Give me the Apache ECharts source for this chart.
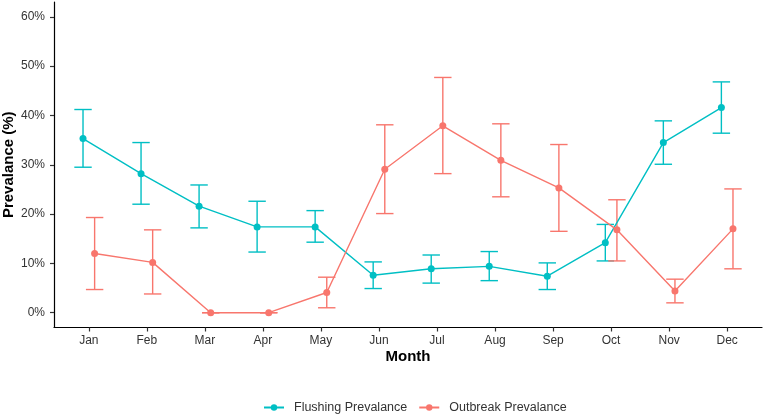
<!DOCTYPE html>
<html>
<head>
<meta charset="utf-8">
<script src="https://cdn.jsdelivr.net/npm/echarts@6/dist/echarts.min.js"></script>
<style>
html,body{margin:0;padding:0;background:#fff;}
#chart{width:764px;height:416px;}
</style>
</head>
<body>
<div id="chart"></div>
<script>
var months = ['Jan','Feb','Mar','Apr','May','Jun','Jul','Aug','Sep','Oct','Nov','Dec'];
var yTicks = [0, 10, 20, 30, 40, 50, 60];

var flushing      = [35.3, 28.2, 21.6, 17.4, 17.4, 7.6, 8.9, 9.4, 7.4, 14.2, 34.5, 41.6];
var flushingLow   = [29.5, 22.0, 17.2, 12.3, 14.3, 4.9, 6.0, 6.5, 4.7, 10.5, 30.1, 36.4];
var flushingHigh  = [41.2, 34.5, 25.9, 22.6, 20.7, 10.3, 11.7, 12.4, 10.1, 17.9, 38.9, 46.8];

var outbreak      = [12.0, 10.2, 0, 0, 4.1, 29.1, 37.9, 30.9, 25.3, 16.8, 4.4, 17.0];
var outbreakLow   = [4.7, 3.8, 0, 0, 1.0, 20.1, 28.2, 23.5, 16.5, 10.5, 2.0, 8.9];
var outbreakHigh  = [19.3, 16.8, 0, 0, 7.2, 38.1, 47.7, 38.3, 34.1, 22.9, 6.8, 25.1];

var TEAL = '#00BFC4', SALMON = '#F8766D';
var DODGE = 0.1, CAP = 0.15;

function pts(vals, off){ return vals.map(function(v,i){ return [i+1+off, v]; }); }
function bars(lo, hi, off){ return lo.map(function(l,i){ return [i+1+off, l, hi[i]]; }); }

function errRender(color){
  return function(params, api){
    var x = api.value(0), lo = api.value(1), hi = api.value(2);
    var pLo = api.coord([x, lo]), pHi = api.coord([x, hi]);
    var a = api.coord([x - CAP, hi]), b = api.coord([x + CAP, hi]);
    var c = api.coord([x - CAP, lo]), d = api.coord([x + CAP, lo]);
    var st = {stroke: color, lineWidth: 1.4};
    return {type:'group', children:[
      {type:'line', shape:{x1:pLo[0],y1:pLo[1],x2:pHi[0],y2:pHi[1]}, style:st},
      {type:'line', shape:{x1:a[0],y1:a[1],x2:b[0],y2:b[1]}, style:st},
      {type:'line', shape:{x1:c[0],y1:c[1],x2:d[0],y2:d[1]}, style:st}
    ]};
  };
}

var monthVals = months.map(function(m,i){ return i+1; });
var txt = '#333333';

var chart = echarts.init(document.getElementById('chart'), null, {renderer:'canvas'});
chart.setOption({
  animation:false,
  backgroundColor:'#ffffff',
  grid:{left:54, right:2, top:2, bottom:88.5, containLabel:false, outerBoundsMode:'none'},
  legend:{
    data:['Flushing Prevalance','Outbreak Prevalance'],
    left:263, top:401, padding:0,
    itemWidth:20, itemHeight:8, itemGap:11,
    textStyle:{fontFamily:'Liberation Sans', fontSize:12.5, color:txt, padding:[0,0,0,5]}
  },
  xAxis:{
    type:'value', min:0.4, max:12.6,
    name:'Month', nameLocation:'middle', nameGap:22, nameMoveOverlap:false,
    nameTextStyle:{fontFamily:'Liberation Sans', fontSize:15, fontWeight:'bold', color:'#000'},
    axisLine:{show:true, onZero:false, lineStyle:{color:'#000', width:1.2}},
    axisTick:{show:true, length:4, customValues:monthVals, lineStyle:{color:'#333', width:1.2}},
    axisLabel:{customValues:monthVals, margin:7, fontFamily:'Liberation Sans', fontSize:12, color:txt,
      formatter:function(v){ return months[Math.round(v)-1] || ''; }},
    splitLine:{show:false}
  },
  yAxis:{
    type:'value', min:-3, max:63,
    name:'Prevalance (%)', nameLocation:'middle', nameGap:38, nameRotate:90, nameMoveOverlap:false,
    nameTextStyle:{fontFamily:'Liberation Sans', fontSize:15, fontWeight:'bold', color:'#000'},
    axisLine:{show:true, onZero:false, lineStyle:{color:'#000', width:1.2}},
    axisTick:{show:true, length:4, customValues:yTicks, lineStyle:{color:'#333', width:1.2}},
    axisLabel:{customValues:yTicks, margin:9, fontFamily:'Liberation Sans', fontSize:12, color:txt,
      formatter:function(v){ return v + '%'; }},
    splitLine:{show:false}
  },
  series:[
    {name:'Flushing Prevalance', type:'line', data:pts(flushing,-DODGE), symbol:'circle', symbolSize:7,
      itemStyle:{color:TEAL}, lineStyle:{color:TEAL, width:1.4}, z:3},
    {name:'Outbreak Prevalance', type:'line', data:pts(outbreak,DODGE), symbol:'circle', symbolSize:7,
      itemStyle:{color:SALMON}, lineStyle:{color:SALMON, width:1.4}, z:3},
    {name:'flushErr', type:'custom', data:bars(flushingLow, flushingHigh, -DODGE), renderItem:errRender(TEAL), z:2},
    {name:'outErr', type:'custom', data:bars(outbreakLow, outbreakHigh, DODGE), renderItem:errRender(SALMON), z:2}
  ]
});
</script>
</body>
</html>
